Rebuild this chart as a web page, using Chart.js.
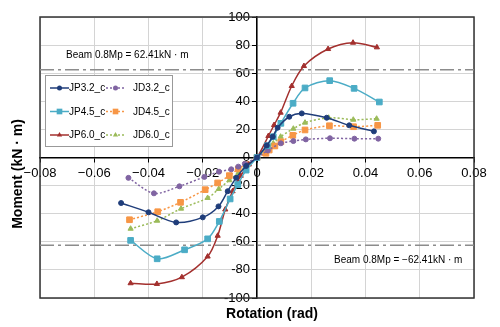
<!DOCTYPE html>
<html>
<head>
<meta charset="utf-8">
<script src="https://cdn.jsdelivr.net/npm/chart.js@4"></script>
<style>
  html, body { margin: 0; padding: 0; background: #fff; }
  #momentChart { display: block; }
</style>
</head>
<body>
<canvas id="momentChart" width="500" height="327"></canvas>
<script>
// rotation (rad) / moment (kN·m)
var jp32Rot = [-0.0501, -0.0400, -0.0298, -0.0200, -0.0142, -0.0108, -0.0077, -0.0040, 0, 0.0036, 0.0058, 0.0076, 0.0119, 0.0165, 0.0257, 0.0340, 0.0431];
var jp32Mom = [-32.4, -39.0, -46.2, -42.6, -34.8, -24.0, -14.5, -6.0, 0, 8.6, 14.8, 21.2, 29.0, 31.4, 28.3, 22.9, 18.6];

var jp45Rot = [-0.0466, -0.0368, -0.0267, -0.0182, -0.0139, -0.0099, -0.0071, -0.0040, 0, 0.0038, 0.0060, 0.0088, 0.0133, 0.0177, 0.0268, 0.0358, 0.0451];
var jp45Mom = [-59.0, -72.1, -65.7, -57.9, -45.5, -29.5, -19.3, -9.0, 0, 8.4, 14.8, 24.3, 38.6, 49.5, 54.7, 49.2, 39.5];

var jp60Rot = [-0.0466, -0.0369, -0.0277, -0.0182, -0.0145, -0.0117, -0.0090, -0.0060, -0.0030, 0, 0.0042, 0.0063, 0.0087, 0.0128, 0.0173, 0.0262, 0.0354, 0.0442];
var jp60Mom = [-89.5, -90.0, -85.2, -70.5, -55.7, -37.0, -24.0, -13.0, -5.0, 0, 15.3, 23.1, 31.9, 50.9, 65.1, 77.2, 81.7, 78.4];

var jd32Rot = [-0.0474, -0.0380, -0.0286, -0.0194, -0.0140, -0.0095, -0.0069, -0.0045, 0, 0.0040, 0.0088, 0.0134, 0.0180, 0.0269, 0.0359, 0.0447];
var jd32Mom = [-14.5, -25.5, -20.5, -13.8, -10.1, -8.4, -6.5, -4.5, 0, 5.0, 10.1, 11.7, 12.9, 13.7, 13.4, 13.4];

var jd45Rot = [-0.0470, -0.0366, -0.0282, -0.0191, -0.0145, -0.0102, -0.0069, -0.0040, 0, 0.0033, 0.0045, 0.0066, 0.0088, 0.0132, 0.0177, 0.0267, 0.0356, 0.0445];
var jd45Mom = [-44.3, -38.6, -31.9, -22.9, -18.1, -12.9, -8.1, -5.0, 0, 3.0, 5.3, 8.2, 11.2, 15.8, 19.6, 22.6, 21.9, 22.9];

var jd60Rot = [-0.0466, -0.0368, -0.0280, -0.0182, -0.0141, -0.0102, -0.0069, -0.0040, 0, 0.0030, 0.0060, 0.0087, 0.0134, 0.0177, 0.0264, 0.0355, 0.0441];
var jd60Mom = [-50.7, -45.0, -36.4, -28.8, -22.4, -16.2, -11.0, -6.0, 0, 5.0, 10.0, 14.8, 20.5, 24.8, 28.3, 26.9, 27.6];

var beamMp = 62.41;
var xTicks = [-0.08, -0.06, -0.04, -0.02, 0, 0.02, 0.04, 0.06, 0.08];
var yTicks = [-100, -80, -60, -40, -20, 0, 20, 40, 60, 80, 100];

function pts(xs, ys) {
    return xs.map(function (x, i) { return { x: x, y: ys[i] }; });
}

function fmtTick(v) {
    if (Math.abs(v) < 1e-9) return '0';
    return (v < 0 ? '\u2212' : '') + Math.abs(v).toFixed(2);
}

function series(label, xs, ys, color, style, radius, dashed) {
    return {
        label: label,
        data: pts(xs, ys),
        showLine: true,
        borderColor: color,
        backgroundColor: color,
        borderWidth: 1.5,
        borderDash: dashed ? [2, 2] : [],
        pointStyle: style,
        pointRadius: radius,
        pointBorderWidth: 1,
        tension: 0.3
    };
}

function refLine(val) {
    return {
        label: 'ref',
        data: [{ x: xTicks[0], y: val }, { x: xTicks[xTicks.length - 1], y: val }],
        showLine: true,
        borderColor: '#8c8c8c',
        borderWidth: 1.6,
        borderDash: [14, 4, 3, 4],
        pointRadius: 0,
        tension: 0
    };
}

// chart-area frame + axis titles + beam notes
var decorations = {
    id: 'decorations',
    beforeDatasetsDraw: function (chart) {
        var c = chart.ctx, a = chart.chartArea;
        c.save();
        c.strokeStyle = '#333';
        c.lineWidth = 1.5;
        c.strokeRect(a.left, a.top, a.right - a.left, a.bottom - a.top);
        c.restore();
    },
    afterDraw: function (chart) {
        var c = chart.ctx;
        c.save();
        c.fillStyle = '#000';
        c.font = '10px "Liberation Sans"';
        c.textBaseline = 'middle';
        c.textAlign = 'left';
        c.fillText('Beam 0.8Mp = 62.41kN \u00b7 m', 66, 55);
        c.fillText('Beam 0.8Mp = \u221262.41kN \u00b7 m', 334, 260);

        c.font = 'bold 14px "Liberation Sans"';
        c.textAlign = 'center';
        c.fillText('Rotation (rad)', 272, 314);
        c.translate(18, 174);
        c.rotate(-Math.PI / 2);
        c.fillText('Moment (kN \u00b7 m)', 0, 0);
        c.restore();
    }
};

function marker(c, style, x, y, r) {
    c.beginPath();
    if (style === 'rect') {
        var s = r * Math.SQRT1_2;
        c.rect(x - s, y - s, 2 * s, 2 * s);
    } else if (style === 'triangle') {
        c.moveTo(x, y - r);
        c.lineTo(x + r * 0.87, y + r * 0.5);
        c.lineTo(x - r * 0.87, y + r * 0.5);
        c.closePath();
    } else {
        c.arc(x, y, r, 0, Math.PI * 2);
    }
    c.fill();
}

var legendBox = {
    id: 'legendBox',
    afterDraw: function (chart) {
        var c = chart.ctx;
        var bx = 45, by = 75, bw = 127, bh = 71;
        c.save();
        c.fillStyle = '#fff';
        c.fillRect(bx, by, bw, bh);
        c.strokeStyle = '#999';
        c.lineWidth = 1;
        c.strokeRect(bx + 0.5, by + 0.5, bw, bh);
        c.font = '10px "Liberation Sans"';
        c.textBaseline = 'middle';
        chart.data.datasets.slice(0, 6).forEach(function (ds, i) {
            var col = i < 3 ? 0 : 1;
            var row = i % 3;
            var lx = col === 0 ? 50 : 106;
            var ly = 88 + row * 23.5;
            c.strokeStyle = ds.borderColor;
            c.lineWidth = ds.borderWidth;
            c.setLineDash(ds.borderDash);
            c.beginPath();
            c.moveTo(lx, ly);
            c.lineTo(lx + 19, ly);
            c.stroke();
            c.setLineDash([]);
            c.fillStyle = ds.backgroundColor;
            marker(c, ds.pointStyle, lx + 9.5, ly, ds.pointRadius);
            c.fillStyle = '#000';
            c.fillText(ds.label, col === 0 ? 69 : 133, ly + 0.5);
        });
        c.restore();
    }
};

Chart.defaults.font.family = '"Liberation Sans", Arial, sans-serif';
Chart.defaults.color = '#000';

var momentChart = new Chart(document.getElementById('momentChart'), {
    type: 'scatter',
    data: {
        datasets: [
            series('JP3.2_c', jp32Rot, jp32Mom, '#1f3d7a', 'circle', 2.5, false),
            series('JP4.5_c', jp45Rot, jp45Mom, '#4bacc6', 'rect', 4.0, false),
            series('JP6.0_c', jp60Rot, jp60Mom, '#a3302e', 'triangle', 3.0, false),
            series('JD3.2_c', jd32Rot, jd32Mom, '#8064a2', 'circle', 2.5, true),
            series('JD4.5_c', jd45Rot, jd45Mom, '#f79646', 'rect', 4.0, true),
            series('JD6.0_c', jd60Rot, jd60Mom, '#9bbb59', 'triangle', 3.0, true),
            refLine(beamMp),
            refLine(-beamMp)
        ]
    },
    options: {
        responsive: false,
        animation: false,
        devicePixelRatio: 1,
        layout: { padding: { left: 40, top: 17, right: 26, bottom: 29 } },
        plugins: {
            legend: { display: false },
            tooltip: { enabled: false }
        },
        scales: {
            x: {
                type: 'linear',
                position: 'center',
                min: xTicks[0],
                max: xTicks[xTicks.length - 1],
                afterFit: function (s) { s.height = 0; },
                afterBuildTicks: function (s) {
                    s.ticks = xTicks.map(function (v) { return { value: v }; });
                },
                ticks: {
                    callback: fmtTick,
                    font: { size: 13 },
                    padding: 4,
                    maxRotation: 0,
                    autoSkip: false
                },
                grid: { color: '#d4d4d4', lineWidth: 1, tickLength: 4, tickColor: '#000' },
                border: { color: '#000', width: 1.5 }
            },
            y: {
                type: 'linear',
                position: 'center',
                min: yTicks[0],
                max: yTicks[yTicks.length - 1],
                afterFit: function (s) { s.width = 0; },
                afterBuildTicks: function (s) {
                    s.ticks = yTicks.map(function (v) { return { value: v }; });
                },
                ticks: {
                    font: { size: 13 },
                    padding: 3,
                    autoSkip: false
                },
                grid: { color: '#d4d4d4', lineWidth: 1, tickLength: 4, tickColor: '#000' },
                border: { color: '#000', width: 1.5 }
            }
        }
    },
    plugins: [decorations, legendBox]
});
</script>
</body>
</html>
